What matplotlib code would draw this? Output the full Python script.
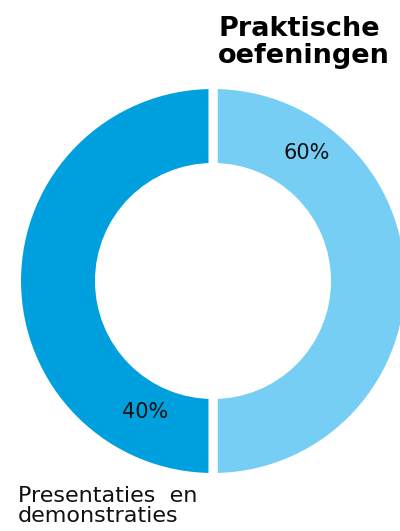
import numpy as np
import matplotlib
matplotlib.use('Agg')
import matplotlib.pyplot as plt

# data
categories = ['Praktische\noefeningen', 'Presentaties  en\ndemonstraties']
shares = [50, 50]              # sizes of the rings as drawn
share_labels = ['60%', '40%']  # printed values
colors = ['#77CEF4', '#00A0DE']

fig = plt.figure(figsize=(4.0, 5.31), dpi=100)
ax = fig.add_axes([13/400, 50/531, 400/400, 400/531])

wedges, _ = ax.pie(shares, colors=colors, startangle=90, counterclock=False,
                   radius=0.9825,
                   wedgeprops=dict(width=0.415, edgecolor='white', linewidth=6.5))
ax.set_xlim(-1, 1)
ax.set_ylim(-1, 1)
ax.set_aspect('equal')
ax.axis('off')

# percentage labels (angle from top, clockwise; radius)
lab_pos = [(36.3, 0.794), (-152.6, 0.738)]
for txt, (ang, r) in zip(share_labels, lab_pos):
    a = np.deg2rad(90 - ang)
    ax.text(r*np.cos(a), r*np.sin(a), txt, ha='center', va='center',
            fontsize=15, family='DejaVu Sans', color='#111111')

fig.text(218/400, 1-16/531, categories[0], ha='left', va='top',
         fontsize=19.5, fontweight='bold', family='DejaVu Sans', linespacing=1.05)
fig.text(18/400, 1-486/531, categories[1], ha='left', va='top',
         fontsize=16, family='DejaVu Sans', linespacing=0.98, color='#111111')

fig.savefig('out.png', dpi=100)
